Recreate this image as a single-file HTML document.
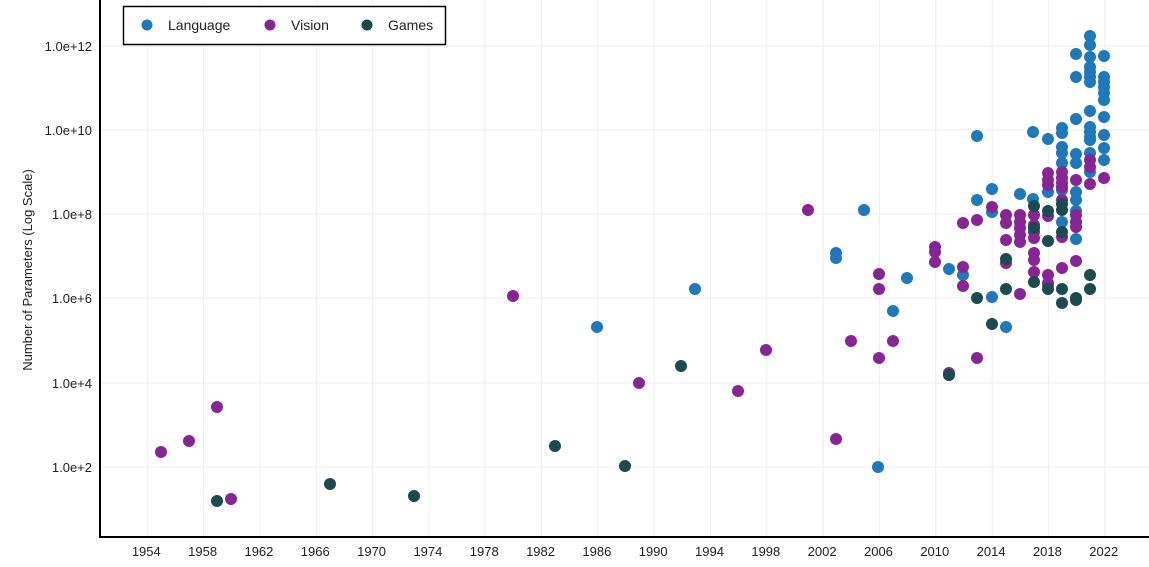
<!DOCTYPE html><html><head><style>body{margin:0;background:#fff}svg{display:block;font-family:"Liberation Sans",sans-serif}</style></head><body>
<svg width="1149" height="567" xmlns="http://www.w3.org/2000/svg">
<g stroke="#eeeeee" stroke-width="1">
<line x1="100" x2="1149" y1="46" y2="46"/><line x1="100" x2="1149" y1="130" y2="130"/><line x1="100" x2="1149" y1="214" y2="214"/><line x1="100" x2="1149" y1="298" y2="298"/><line x1="100" x2="1149" y1="383" y2="383"/><line x1="100" x2="1149" y1="467" y2="467"/>
<g id="vg"></g>
</g>
<g font-size="13" fill="#222" text-anchor="end">
<text x="92" y="51">1.0e+12</text><text x="92" y="135">1.0e+10</text><text x="92" y="219">1.0e+8</text><text x="92" y="303">1.0e+6</text><text x="92" y="388">1.0e+4</text><text x="92" y="472">1.0e+2</text>
</g>
<text transform="translate(32,270) rotate(-90)" font-size="13" fill="#222" text-anchor="middle">Number of Parameters (Log Scale)</text>
<g id="xl" font-size="13" fill="#222" text-anchor="middle"></g>
<line x1="100" y1="0" x2="100" y2="538" stroke="#000" stroke-width="2"/>
<line x1="99" y1="537" x2="1149" y2="537" stroke="#000" stroke-width="2"/>
<g id="pts"></g>
<rect x="123.5" y="6.5" width="322" height="38" fill="#fff" stroke="#000" stroke-width="1.5"/>
<circle cx="147" cy="25" r="5.5" fill="#1f78b9"/><text x="168" y="30" font-size="14" fill="#222">Language</text>
<circle cx="270" cy="25" r="5.5" fill="#882596"/><text x="291" y="30" font-size="14" fill="#222">Vision</text>
<circle cx="367" cy="25" r="5.5" fill="#1b4a4f"/><text x="388" y="30" font-size="14" fill="#222">Games</text>
</svg>
<script>
var ns="http://www.w3.org/2000/svg";
function el(p,t,a,txt){var e=document.createElementNS(ns,t);for(var k in a)e.setAttribute(k,a[k]);if(txt)e.textContent=txt;document.getElementById(p).appendChild(e);}
for(var y=1954;y<=2022;y+=4){var x=147.3+(y-1954)*14.08;el("vg","line",{x1:x,x2:x,y1:0,y2:537});el("xl","text",{x:x-1,y:556},String(y));}
var B=[[1090,36],[1090,45],[1076,54],[1090,57],[1104,56],[1076,77],[1090,67],[1090,72],[1090,77],[1090,82],[1104,77],[1104,82],[1104,87],[1104,93],[1104,100],[1090,111],[1076,119],[1104,117],[977,136],[1033,132],[1048,139],[1062,128],[1062,133],[1090,127],[1090,132],[1090,137],[1090,140],[1104,135],[1062,147],[1062,153],[1076,154],[1076,163],[1090,153],[1104,148],[1104,160],[1062,163],[1090,172],[1076,192],[1076,200],[992,189],[977,200],[1020,194],[1033,199],[864,210],[992,212],[1062,222],[1076,211],[1076,239],[963,275],[949,269],[907,278],[1048,285],[992,297],[893,311],[1006,327],[836,253],[836,258],[695,289],[597,327],[878,467],[1048,192],[1062,190],[1076,222]];
var V=[[1090,160],[1090,167],[1104,178],[1090,184],[1076,180],[1048,173],[1048,180],[1048,185],[1062,172],[1062,178],[1062,183],[1062,187],[1062,200],[1048,216],[992,207],[1006,215],[1006,223],[1020,215],[1020,222],[1020,228],[1020,235],[1020,242],[1034,215],[1034,225],[1034,232],[1034,238],[1006,240],[1076,215],[1076,222],[1076,227],[977,220],[963,223],[935,247],[935,252],[935,262],[963,267],[963,286],[879,274],[879,289],[1006,263],[1034,253],[1034,260],[1034,272],[1048,275],[1048,283],[1062,268],[1076,261],[1020,294],[1062,237],[851,341],[893,341],[879,358],[977,358],[949,373],[161,452],[189,441],[217,407],[231,499],[513,296],[639,383],[738,391],[766,350],[808,210],[836,439]];
var G=[[1034,206],[1048,211],[1062,204],[1062,210],[1034,228],[1062,232],[1048,241],[1006,259],[1090,275],[1090,289],[1006,289],[1048,289],[1062,289],[1034,282],[977,298],[1076,298],[1062,303],[1076,300],[992,324],[949,375],[217,501],[330,484],[414,496],[555,446],[625,466],[681,366]];
B.forEach(function(p){el("pts","circle",{cx:p[0],cy:p[1],r:6,fill:"#1f78b9"});});
V.forEach(function(p){el("pts","circle",{cx:p[0],cy:p[1],r:6,fill:"#882596"});});
G.forEach(function(p){el("pts","circle",{cx:p[0],cy:p[1],r:6,fill:"#1b4a4f"});});
</script>
</body></html>
